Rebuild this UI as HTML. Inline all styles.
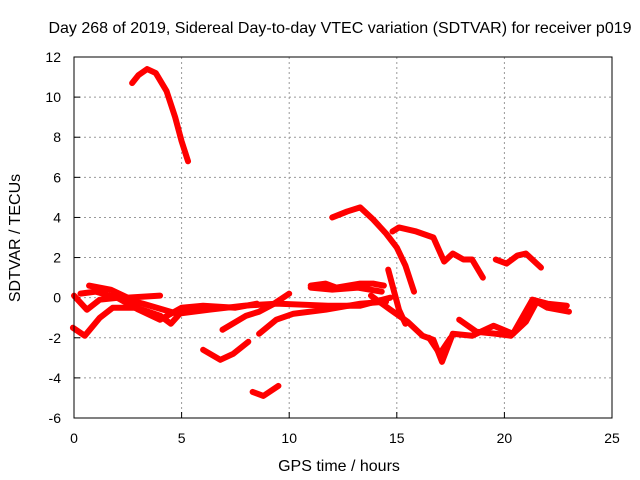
<!DOCTYPE html>
<html><head><meta charset="utf-8"><style>
body{margin:0;background:#fff}
svg{display:block;font-family:"Liberation Sans",sans-serif}
</style></head><body>
<svg id="chart" width="640" height="480" viewBox="0 0 640 480">
<rect width="640" height="480" fill="#fff"/>
<g id="grid"></g>
<g id="series"></g>
<rect x="74" y="57" width="538" height="361" fill="none" stroke="#000" stroke-width="1"/>
<g id="ticks" font-size="14" fill="#000"></g>
<text x="340" y="33" font-size="16" text-anchor="middle">Day 268 of 2019, Sidereal Day-to-day VTEC variation (SDTVAR) for receiver p019</text>
<text x="339" y="471" font-size="16" text-anchor="middle">GPS time / hours</text>
<text transform="translate(20,238) rotate(-90)" font-size="16" text-anchor="middle">SDTVAR / TECUs</text>
</svg>
<script>
const xTicks=[0,5,10,15,20,25];
const yTicks=[-6,-4,-2,0,2,4,6,8,10,12];
const seg1=[[2.7,10.7],[3.0,11.1],[3.4,11.4],[3.8,11.2],[4.3,10.3],[4.7,9.0],[5.0,7.8],[5.3,6.8]];
const seg2=[[-0.05,-1.5],[0.5,-1.9],[1.2,-1.0],[1.8,-0.5],[2.9,-0.5],[4.0,-0.9],[4.5,-1.3],[5.0,-0.7],[6.0,-0.6]];
const seg3=[[0,0.1],[0.6,-0.6],[1.2,-0.1],[2.1,0],[3.2,-0.3],[4.8,-0.8],[6.3,-0.6],[7.9,-0.4],[9.4,-0.3],[11.8,-0.4],[13.3,-0.4],[14.7,0]];
const seg4=[[0.7,0.6],[1.7,0.4],[2.5,0],[4.0,0.1]];
const seg5=[[0.3,0.2],[1.0,0.3],[2.0,0.0],[3.0,-0.6],[4.0,-1.1],[5.0,-0.5],[6.0,-0.4],[7.5,-0.5],[8.5,-0.3]];
const seg6=[[6.0,-2.6],[6.8,-3.1],[7.4,-2.8],[8.1,-2.2]];
const seg7=[[8.3,-4.7],[8.8,-4.9],[9.5,-4.4]];
const seg8=[[6.9,-1.6],[8.0,-0.9],[8.6,-0.7],[9.3,-0.3],[10.0,0.2]];
const seg9=[[8.6,-1.8],[9.4,-1.1],[10.2,-0.8],[11.7,-0.6],[13.3,-0.3],[14.5,-0.2]];
const seg10=[[11.0,0.6],[11.7,0.7],[12.2,0.5],[13.3,0.7],[13.9,0.7],[14.4,0.6]];
const seg11=[[11.0,0.5],[12.0,0.4],[13.2,0.5],[14.3,0.3]];
const seg12=[[12.0,4.0],[12.7,4.3],[13.3,4.5],[13.9,3.9],[14.5,3.2],[15.0,2.5],[15.4,1.6],[15.8,0.3]];
const seg13=[[14.8,3.3],[15.1,3.5],[15.9,3.3],[16.7,3.0],[17.2,1.8],[17.6,2.2],[18.1,1.9],[18.5,1.9],[19.0,1.0]];
const seg14=[[19.6,1.9],[20.1,1.7],[20.6,2.1],[21.0,2.2],[21.7,1.5]];
const seg15=[[14.6,1.4],[15.1,-0.6],[15.4,-1.3]];
const seg16=[[13.8,0.1],[14.7,-0.6],[15.5,-1.2],[16.2,-1.9],[16.7,-2.1],[17.1,-3.2],[17.6,-1.8],[18.5,-1.9],[19.5,-1.4],[20.4,-1.8],[21.3,-0.1],[22.0,-0.3],[22.9,-0.4]];
const seg17=[[17.9,-1.1],[18.7,-1.7],[19.6,-1.8],[20.3,-1.9],[21.0,-1.2],[21.5,-0.2],[22.0,-0.5],[23.0,-0.7]];
const seg18=[[16.5,-2.0],[17.0,-2.8],[17.5,-2.0]];
const seriesList=[seg1,seg2,seg3,seg4,seg5,seg6,seg7,seg8,seg9,seg10,seg11,seg12,seg13,seg14,seg15,seg16,seg17,seg18];
const X=h=>74+h*538/25;
const Y=v=>57+(12-v)*361/18;
const NS='http://www.w3.org/2000/svg';
const grid=document.getElementById('grid'),ticks=document.getElementById('ticks'),series=document.getElementById('series');
function mk(t,a,p){const e=document.createElementNS(NS,t);for(const k in a)e.setAttribute(k,a[k]);p.appendChild(e);return e;}
xTicks.forEach(t=>{
 if(t>0&&t<25){const l=mk('line',{x1:X(t),x2:X(t),y1:57,y2:418,stroke:'#999','stroke-dasharray':'2,3'},grid);
 
 }
 const tk=mk('line',{x1:X(t),x2:X(t),y1:418,y2:412,stroke:'#000'},grid);
 
 
 const tx=mk('text',{x:X(t),y:443,'text-anchor':'middle'},ticks);tx.textContent=t;
 
 
});
yTicks.forEach(t=>{
 if(t>-6&&t<12){const l=mk('line',{x1:74,x2:612,y1:Y(t),y2:Y(t),stroke:'#999','stroke-dasharray':'2,3'},grid);
 
 }
 const tk=mk('line',{x1:74,x2:80,y1:Y(t),y2:Y(t),stroke:'#000'},grid);
 
 
 const tx=mk('text',{x:61,y:Y(t)+5,'text-anchor':'end'},ticks);tx.textContent=t;
 
 
});
seriesList.forEach(s=>{
 const p=mk('polyline',{points:s.map(d=>X(d[0])+','+Y(d[1])).join(' '),fill:'none',stroke:'#f00','stroke-width':6,'stroke-linejoin':'round','stroke-linecap':'round'},series);
 
 
});
</script>
</body></html>
